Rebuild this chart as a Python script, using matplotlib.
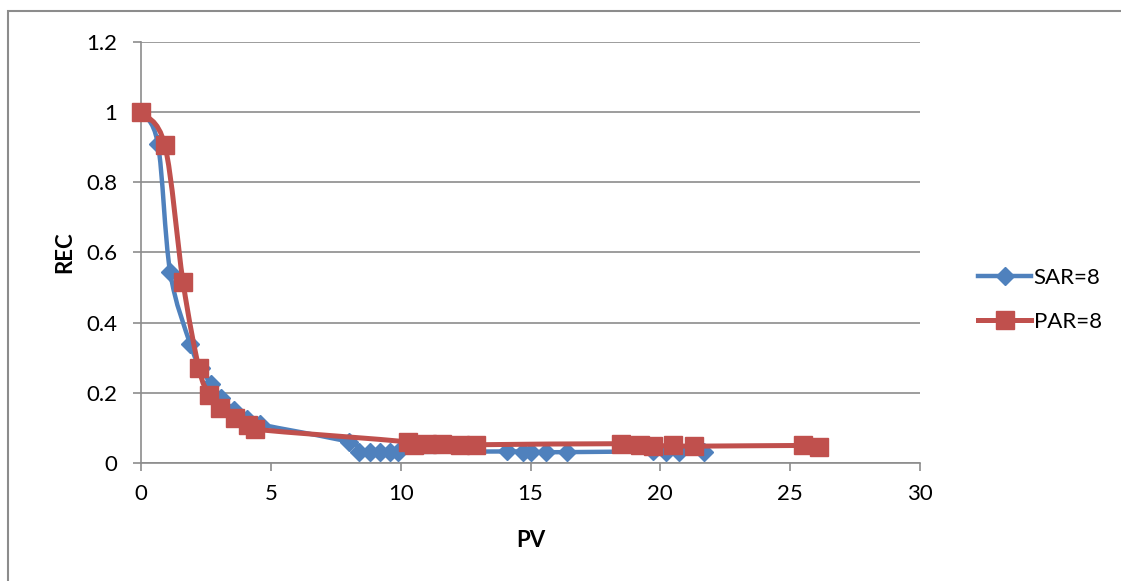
import numpy as np
import matplotlib.pyplot as plt
from matplotlib.path import Path
from matplotlib.patches import PathPatch, Rectangle
from matplotlib.lines import Line2D

plt.rcParams['font.family'] = ['Lato', 'DejaVu Sans']

# SAR=8 curve
sar_pv = [0, 0.65, 1.12, 1.89, 2.3, 2.7, 3.1, 3.6, 4.1, 4.6, 8.0, 8.4, 8.8, 9.2, 9.6, 9.9,
          14.1, 14.7, 15.0, 15.6, 16.4, 19.7, 20.2, 20.7, 21.7]
sar_rec = [1.0, 0.91, 0.545, 0.34, 0.27, 0.225, 0.185, 0.15, 0.125, 0.11, 0.06, 0.032, 0.03, 0.03,
           0.03, 0.031, 0.033, 0.032, 0.032, 0.031, 0.031, 0.033, 0.032, 0.031, 0.031]

# PAR=8 curve
par_pv = [0, 0.92, 1.62, 2.23, 2.62, 3.04, 3.62, 4.12, 4.39, 10.3, 10.5, 11.0, 11.6, 12.3, 12.9,
          18.5, 19.2, 19.7, 20.5, 21.3, 25.5, 26.1]
par_rec = [1.0, 0.905, 0.515, 0.27, 0.195, 0.157, 0.128, 0.108, 0.096, 0.06, 0.05, 0.054, 0.054,
           0.05, 0.052, 0.055, 0.05, 0.048, 0.05, 0.048, 0.05, 0.047]

blue = '#4F81BD'
red = '#C0504D'
grey = '#8C8C8C'
fs = 16


def smooth_path(x, y):
    # cubic bezier through all points (catmull-rom style tangents)
    p = np.column_stack([x, y]).astype(float)
    n = len(p)
    verts = [p[0]]
    codes = [Path.MOVETO]
    for i in range(n - 1):
        p0 = p[i - 1] if i > 0 else p[i]
        p1 = p[i]
        p2 = p[i + 1]
        p3 = p[i + 2] if i + 2 < n else p[i + 1]
        c1 = p1 + (p2 - p0) / 6.0
        c2 = p2 - (p3 - p1) / 6.0
        verts += [c1, c2, p2]
        codes += [Path.CURVE4] * 3
    return Path(verts, codes)


fig = plt.figure(figsize=(11.21, 5.81), dpi=100)
ax = fig.add_axes([141 / 1121, 118 / 581, 779 / 1121, 421 / 581])

ax.add_patch(PathPatch(smooth_path(sar_pv, sar_rec), fill=False, ec=blue, lw=3.2,
                       capstyle='round', joinstyle='round', zorder=3, clip_on=False))
ax.plot(sar_pv, sar_rec, ls='none', marker='D', ms=9.5, color=blue, zorder=3, clip_on=False)

ax.add_patch(PathPatch(smooth_path(par_pv, par_rec), fill=False, ec=red, lw=3.6,
                       capstyle='round', joinstyle='round', zorder=4, clip_on=False))
ax.plot(par_pv, par_rec, ls='none', marker='s', ms=13.5, color=red, zorder=4, clip_on=False)

ax.set_xlim(0, 30)
ax.set_ylim(0, 1.2)
ax.set_xticks(np.arange(0, 31, 5))
ax.set_yticks(np.arange(0, 1.21, 0.2))
ax.set_yticklabels(['0', '0.2', '0.4', '0.6', '0.8', '1', '1.2'])
ax.grid(axis='y', color=grey, lw=1.2)
ax.set_axisbelow(True)
for s in ['top', 'right']:
    ax.spines[s].set_visible(False)
for s in ['left', 'bottom']:
    ax.spines[s].set_color(grey)
    ax.spines[s].set_linewidth(1.2)
ax.tick_params(axis='both', colors=grey, labelcolor='black', labelsize=fs,
               length=6, width=1.2, direction='out')
ax.tick_params(axis='y', pad=11)
ax.tick_params(axis='x', pad=9)
ax.set_xlabel('PV', fontsize=fs, fontweight='bold', labelpad=19)
ax.set_ylabel('REC', fontsize=fs, fontweight='bold', labelpad=8)

handles = [Line2D([], [], color=blue, lw=3.2, marker='D', ms=9.5),
           Line2D([], [], color=red, lw=3.6, marker='s', ms=13.5)]
fig.legend(handles, ['SAR=8', 'PAR=8'], loc='center left',
           bbox_to_anchor=(958 / 1121, 1 - 300 / 581), frameon=False, fontsize=fs,
           handlelength=2.4, handletextpad=0.1, labelspacing=1.1)

# chart area border
fig.add_artist(Rectangle((8 / 1121, -0.01), 1.1, 1 - 11.5 / 581 + 0.01,
                         transform=fig.transFigure, fill=False, ec=grey, lw=1.5))

fig.savefig('out.png', dpi=100)
